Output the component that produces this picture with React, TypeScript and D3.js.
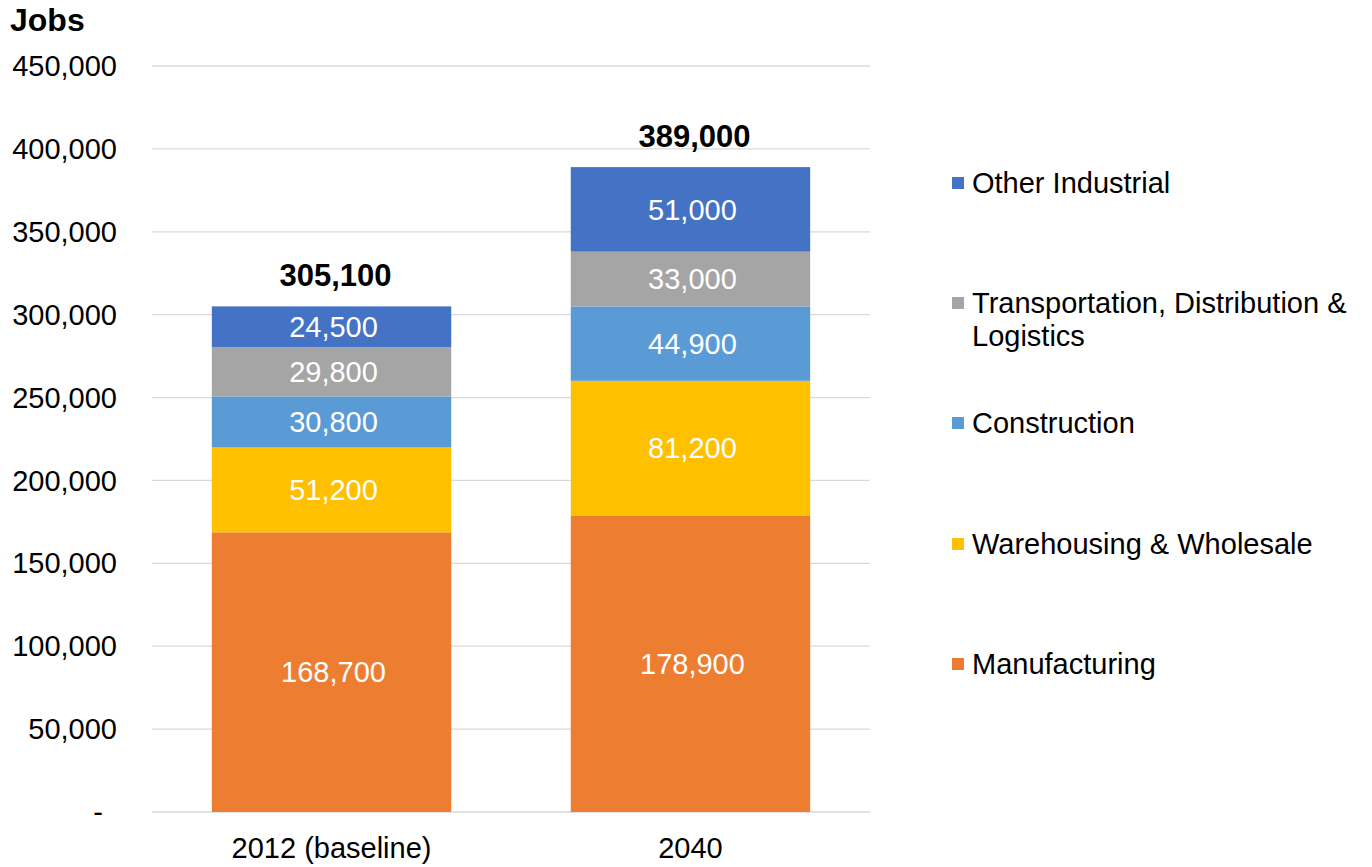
import React from "react";
import * as d3 from "d3";

const categories = ["2012 (baseline)", "2040"];
const seriesNames = [
  "Manufacturing",
  "Warehousing & Wholesale",
  "Construction",
  "Transportation, Distribution & Logistics",
  "Other Industrial",
];
const manufacturing = [168700, 178900];
const warehousing = [51200, 81200];
const construction = [30800, 44900];
const transportation = [29800, 33000];
const otherIndustrial = [24500, 51000];
const totals = [305100, 389000];
const yTicks = [0, 50000, 100000, 150000, 200000, 250000, 300000, 350000, 400000, 450000];
const colors = ["#ED7D31", "#FFC000", "#5B9BD5", "#A5A5A5", "#4472C4"];

const legendItems = [
  { name: "Other Industrial", lines: ["Other Industrial"], color: "#4472C4", y: 183 },
  { name: "Transportation", lines: ["Transportation, Distribution &", "Logistics"], color: "#A5A5A5", y: 303 },
  { name: "Construction", lines: ["Construction"], color: "#5B9BD5", y: 423 },
  { name: "Warehousing", lines: ["Warehousing & Wholesale"], color: "#FFC000", y: 544 },
  { name: "Manufacturing", lines: ["Manufacturing"], color: "#ED7D31", y: 664 },
];

export default function App() {
  const W = 1372, H = 867;
  const font = "'Liberation Sans', Arial, sans-serif";
  const y = d3.scaleLinear().domain([0, 450000]).range([812, 66]);
  const x = d3.scaleBand().domain(categories).range([152, 870]).paddingInner(0.333).paddingOuter(0.1667);
  const seriesData = [manufacturing, warehousing, construction, transportation, otherIndustrial];
  const rows = categories.map((c, i) => {
    const r: any = { cat: c };
    seriesNames.forEach((s, j) => (r[s] = seriesData[j][i]));
    return r;
  });
  const stack = d3.stack().keys(seriesNames)(rows);
  const fmt = d3.format(",");

  return (
    <svg width={W} height={H} style={{ position: "absolute", left: 0, top: 0, background: "#fff" }} fontFamily={font}>
      <text x={10} y={31} fontSize={32} fontWeight="bold" fill="#000">Jobs</text>
      {yTicks.map((t) => (
        <g key={t}>
          <line x1={152} x2={870} y1={y(t)} y2={y(t)} stroke="#D9D9D9" strokeWidth={1.3} />
          <text
            x={t === 0 ? 103 : 117}
            y={y(t)}
            dy="0.35em"
            textAnchor="end"
            fontSize={29}
            fill="#000"
          >
            {t === 0 ? "-" : fmt(t)}
          </text>
        </g>
      ))}
      {stack.map((layer, j) => (
        <g key={layer.key}>
          {layer.map((d, i) => {
            const x0 = x(categories[i])!;
            const top = y(d[1]);
            const bot = y(d[0]);
            return (
              <g key={i}>
                <rect x={x0} y={top} width={x.bandwidth()} height={bot - top} fill={colors[j]} />
                <text
                  x={x0 + x.bandwidth() / 2 + 2}
                  y={(top + bot) / 2}
                  dy="0.35em"
                  textAnchor="middle"
                  fontSize={29}
                  fill="#fff"
                >
                  {fmt(d[1] - d[0])}
                </text>
              </g>
            );
          })}
        </g>
      ))}
      {categories.map((c, i) => (
        <g key={c}>
          <text
            x={x(c)! + x.bandwidth() / 2 + 4}
            y={y(totals[i]) - 31}
            dy="0.35em"
            textAnchor="middle"
            fontSize={31}
            fontWeight="bold"
            fill="#000"
          >
            {fmt(totals[i])}
          </text>
          <text x={x(c)! + x.bandwidth() / 2} y={848} dy="0.35em" textAnchor="middle" fontSize={29} fill="#000">
            {c}
          </text>
        </g>
      ))}
      {legendItems.map((it) => (
        <g key={it.name}>
          <rect x={952} y={it.y - 6} width={12} height={12} fill={it.color} />
          {it.lines.map((l, k) => (
            <text key={k} x={972} y={it.y + k * 33} dy="0.35em" fontSize={29} fill="#000">
              {l}
            </text>
          ))}
        </g>
      ))}
    </svg>
  );
}
